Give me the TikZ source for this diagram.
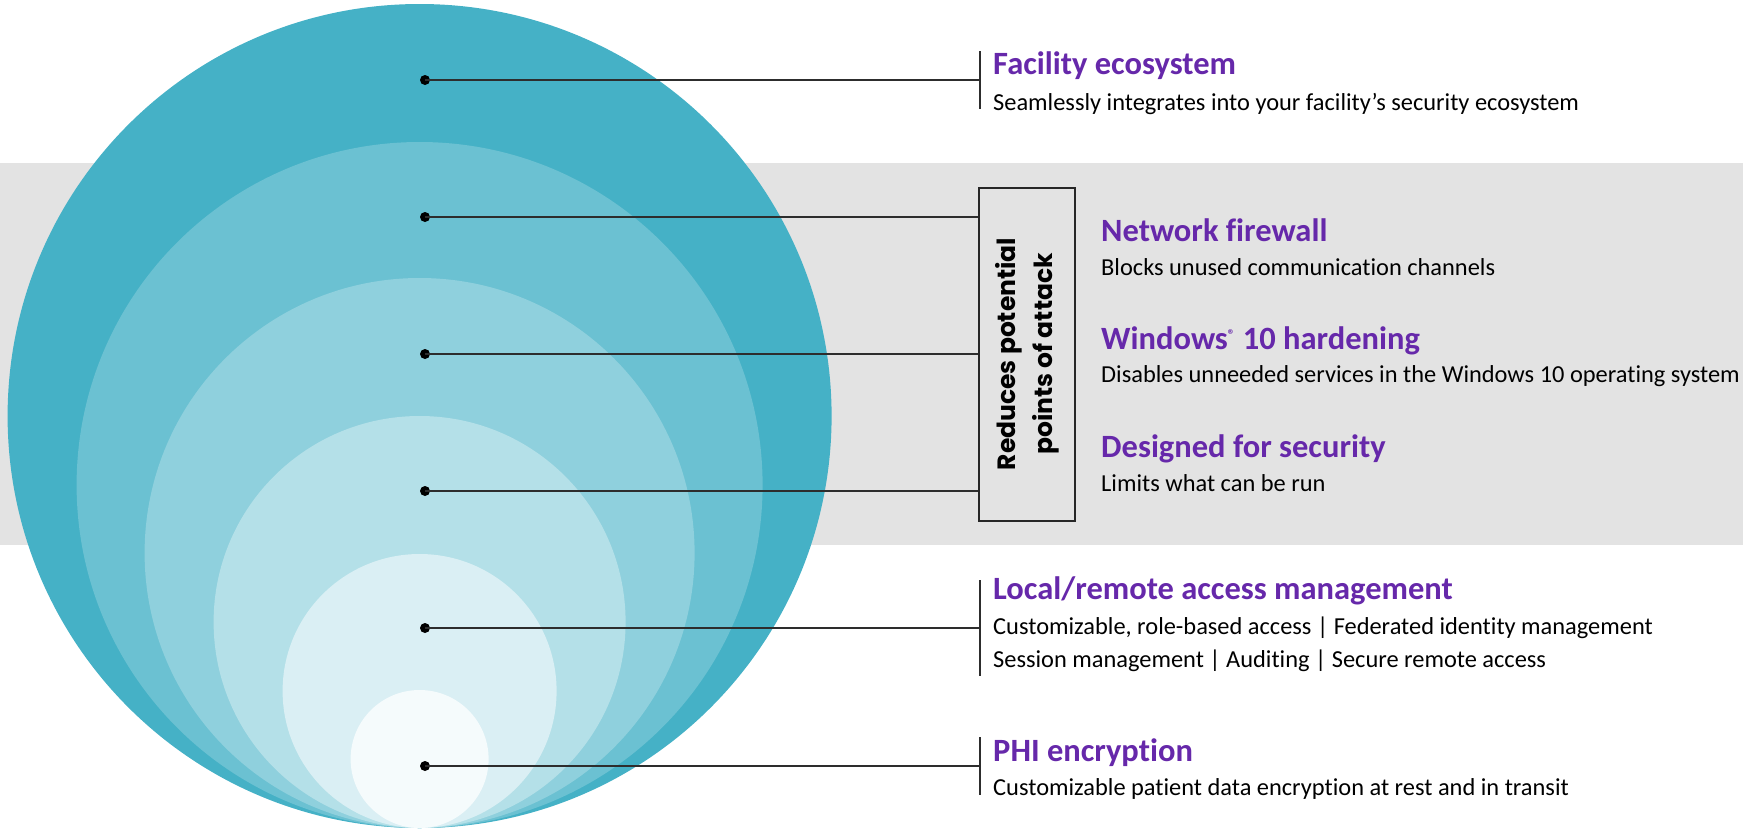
\documentclass[tikz,border=0pt]{standalone}
\usepackage{fontspec}
\setmainfont{Carlito}[Ligatures={NoCommon}]
\newfontfamily\boxfont{Poppins}
\usetikzlibrary{positioning}

\definecolor{ring1}{RGB}{69,177,198}
\definecolor{ring2}{RGB}{107,193,210}
\definecolor{ring3}{RGB}{143,208,221}
\definecolor{ring4}{RGB}{180,224,232}
\definecolor{ring5}{RGB}{218,239,244}
\definecolor{ring6}{RGB}{245,251,252}
\definecolor{band}{RGB}{227,227,227}
\definecolor{headline}{RGB}{102,40,170}
\definecolor{leader}{RGB}{45,45,45}

\tikzset{item title/.style={font=\fontsize{32.5}{36}\selectfont\bfseries,text=headline,anchor=base west,inner sep=0pt},
item text/.style={font=\fontsize{24.4}{28}\selectfont,anchor=base west,inner sep=0pt},
dot/.style={circle,fill=black,minimum size=10pt,inner sep=0pt},
leader line/.style={draw=leader,line width=1.6pt},
bracket bar/.style={draw=leader,line width=1.6pt},
attack box/.style={draw=black!85,line width=2pt,fill=band,minimum width=96pt,minimum height=333pt,inner sep=0pt},
attack label/.style={font=\boxfont\fontsize{25}{37}\selectfont\bfseries,rotate=90,align=center,inner sep=0pt}}

\begin{document}
\begin{tikzpicture}[x=1pt,y=-1pt]
\useasboundingbox (0,0) rectangle (1743,828);

%% grey band behind the middle layers
\fill [band] (0,163) rectangle (1743,545);

%% rings, all touching the bottom edge
\fill [ring1] (419.6,416) circle (412);
\fill [ring2] (419.6,485) circle (343);
\fill [ring3] (419.6,553) circle (275);
\fill [ring4] (419.6,622) circle (206);
\fill [ring5] (419.6,691) circle (137);
\fill [ring6] (419.6,759) circle (69);

%% dots on the rings
\node [dot] (d1) at (425,80) {};
\node [dot] (d2) at (425,217) {};
\node [dot] (d3) at (425,354) {};
\node [dot] (d4) at (425,491) {};
\node [dot] (d5) at (425,628) {};
\node [dot] (d6) at (425,766) {};

%% bar ends
\coordinate (b1) at (980,80);
\coordinate (b1top) at (980,51);
\coordinate (b1bot) at (980,109);
\coordinate (b5) at (980,628);
\coordinate (b5top) at (980,580);
\coordinate (b5bot) at (980,676);
\coordinate (b6) at (980,766);
\coordinate (b6top) at (980,737);
\coordinate (b6bot) at (980,795);

%% box for the three middle layers
\node [attack box] (attack) at (1027,354) {};
\node [attack label] (attacktext) at (attack.center) {Reduces potential\\points of attack};

%% leader lines
\draw [leader line] (d1.center) -- (b1);
\draw [leader line] (d2.center) -- (attack.west |- d2);
\draw [leader line] (d3.center) -- (attack.west |- d3);
\draw [leader line] (d4.center) -- (attack.west |- d4);
\draw [leader line] (d5.center) -- (b5);
\draw [leader line] (d6.center) -- (b6);

%% vertical bars
\draw [bracket bar] (b1top) -- (b1bot);
\draw [bracket bar] (b5top) -- (b5bot);
\draw [bracket bar] (b6top) -- (b6bot);

%% titles and texts
\node [item title] (t1) at (993,74) {Facility ecosystem};
\node [item text] (s1) at (993,110) {Seamlessly integrates into your facility’s security ecosystem};
\node [item title] (t2) at (1101,241) {Network firewall};
\node [item text] (s2) at (1101,275) {Blocks unused communication channels};
\node [item title] (t3) at (1101,349) {Windows\textsuperscript{\fontsize{14}{14}\selectfont\textregistered} 10 hardening};
\node [item text] (s3) at (1101,382) {Disables unneeded services in the Windows 10 operating system};
\node [item title] (t4) at (1101,457) {Designed for security};
\node [item text] (s4) at (1101,491) {Limits what can be run};
\node [item title] (t5) at (993,599) {Local/remote access management};
\node [item text] (s5) at (993,634) {Customizable, role-based access | Federated identity management};
\node [item text] (s5b) at (993,667) {Session management | Auditing | Secure remote access};
\node [item title] (t6) at (993,761) {PHI encryption};
\node [item text] (s6) at (993,795) {Customizable patient data encryption at rest and in transit};

\end{tikzpicture}
\end{document}
